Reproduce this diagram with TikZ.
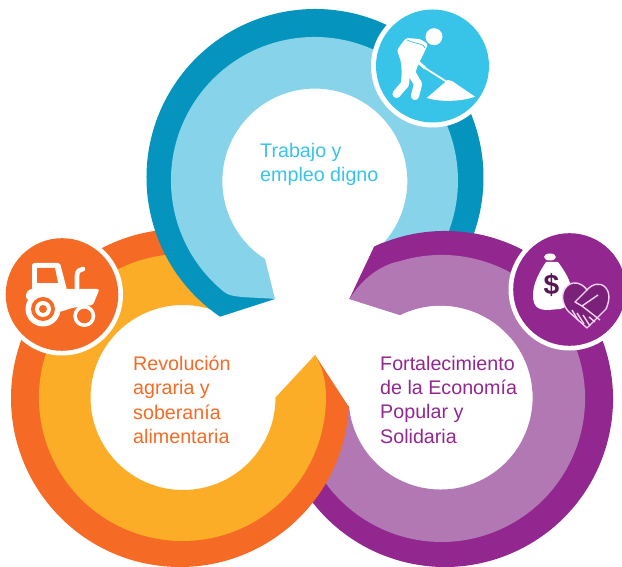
\documentclass[tikz,border=0pt]{standalone}
\usepackage{fontspec}
\setmainfont{Liberation Sans}
\definecolor{bluedark}{HTML}{0594BD}
\definecolor{bluelight}{HTML}{87D3EA}
\definecolor{blueicon}{HTML}{38C3E8}
\definecolor{orangedark}{HTML}{F56A24}
\definecolor{orangelight}{HTML}{FCAD27}
\definecolor{purpledark}{HTML}{92278F}
\definecolor{purplelight}{HTML}{B278B3}
\definecolor{pinkline}{HTML}{F3D3F0}
\tikzset{
  ringlabel/.style={anchor=north west,align=left,font=\fontsize{16.8}{20.7}\selectfont,inner sep=0pt},
  iconstroke/.style={draw=white,line cap=round,line join=round},
  pinkstroke/.style={draw=pinkline,line width=1.2pt,line join=round}
}
% drawn twice: the rings overlap in a cycle
\newcommand{\purplering}{
  \fill[purpledark] (445,168) ++(114.9:168) arc[start angle=114.9,end angle=-150,radius=168]
    -- ++(30:43) arc[start angle=-150,end angle=105,radius=125] -- (349.5,268) -- cycle;
  \fill[purplelight] (349.5,268) -- (400,252) arc[start angle=116.2,end angle=-175,radius=92]
    -- (330,150) -- (311.5,107.9) arc[start angle=-155,end angle=107,radius=143.5]
    .. controls (380,302) and (362,288) .. (349.5,268) -- cycle;
}
\begin{document}
\begin{tikzpicture}[x=0.03cm,y=0.03cm]
\clip (0,0) rectangle (622,567);

\purplering

% orange ring
\fill[orangedark] (180,169) ++(-3:169) arc[start angle=-3,end angle=-277,radius=169]
  -- ++(-97:44) arc[start angle=-277,end angle=0,radius=125] -- (315,212) -- cycle;
\fill[orangelight] (315,212) -- (275.5,169.5) arc[start angle=0,end angle=-292,radius=92.5]
  -- (219.6,308.1) arc[start angle=-285,end angle=0,radius=143.5]
  .. controls (326,188) and (322,200) .. (315,212) -- cycle;

% blue ring
\fill[bluedark] (315,389.5) ++(235.7:168.5) arc[start angle=235.7,end angle=-35,radius=168.5]
  -- ++(145:48.5) arc[start angle=-35,end angle=231,radius=120] -- (275,268) -- cycle;
\fill[bluelight] (275,268) -- (265,308) arc[start angle=237.4,end angle=-45,radius=92.5]
  -- (432,304.2) arc[start angle=-35,end angle=231,radius=143.5]
  .. controls (231,268.5) and (255,270) .. (275,268) -- cycle;

\begin{scope}
\clip (340,230) rectangle (622,567);
\purplering
\end{scope}

% labels
\node[ringlabel,text=blueicon] (trabajo) at (260,424) {Trabajo y\\empleo digno};
\node[ringlabel,text=orangedark] (revolucion) at (133,211) {Revolución\\agraria y\\soberanía\\alimentaria};
\node[ringlabel,text=purpledark] (fortalecimiento) at (380,211) {Fortalecimiento\\de la Economía\\Popular y\\Solidaria};

% worker icon
\fill[white] (432.5,501) circle (61.5);
\fill[blueicon] (432.5,501) circle (56.5);
\fill[white] (434,530.3) circle (8.5);
\fill[white,rounded corners=2pt] (397,517) -- (406,529) -- (420,528) -- (428,523) -- (423,512) -- (418,502) -- (414,490) -- (402,490) -- (401,505) -- cycle;
\draw[iconstroke,line width=7pt] (406,495) -- (405,483) -- (396.5,473);
\draw[iconstroke,line width=7pt] (411,495) -- (418,483) -- (415,471);
\draw[iconstroke,line width=2.5pt] (418,505) -- (425,499);
\draw[iconstroke,line width=1.5pt] (425,499) -- (447,485);
\draw[blueicon,line width=0.6pt] (407,527) .. controls (418,522) and (424,524) .. (425,519);
\fill[white] (426.7,469) -- (447.7,487) -- (452,486) -- (475,470.3) .. controls (460,465) and (440,465) .. (426.7,469) -- cycle;

% tractor icon
\fill[white] (62,272.5) circle (61);
\fill[orangedark] (62,272.5) circle (56.3);
\fill[white,rounded corners=1.5pt] (32,304) -- (60,304) -- (67,277) -- (32,277) -- cycle;
\fill[orangedark] (37,299) -- (55,299) -- (58,284) -- (37,284) -- cycle;
\fill[white,rounded corners=2pt] (26,274) -- (30,278) -- (99.5,278) -- (93,262) -- (72,259) -- (60,255) -- (26,268) -- cycle;
\draw[iconstroke,line width=4pt] (77,279) -- (77,291) .. controls (77,296) and (80,298) .. (83,298);
\fill[white] (43,258) circle (17.5);
\fill[orangedark] (43,258) circle (12);
\fill[white] (43,258) circle (8);
\fill[orangedark] (43,258) circle (4);
\fill[white] (84.3,251) circle (11);
\fill[orangedark] (84.3,251) circle (7.3);

% money icon
\fill[white] (569.5,277.5) circle (61);
\fill[purpledark] (569.5,277.5) circle (56.3);
\fill[white] (546,305) .. controls (540,296) and (533,284) .. (533,272) .. controls (533,260) and (538,257) .. (548,257) -- (560,258) .. controls (570,260) and (574,270) .. (571,280) .. controls (569,290) and (563,298) .. (558,305) -- cycle;
\fill[white] (550,310) ellipse (6 and 3.5);
\node[text=purpledark!60!black,font=\bfseries\fontsize{24}{24}\selectfont,inner sep=0pt] (dollar) at (551.5,282) {\$};
\fill[purpledark!85!black] (587,239) -- (568,256) .. controls (558,268) and (563,282) .. (573,284) .. controls (580,285) and (585,280) .. (587,277) .. controls (592,283) and (600,285) .. (605,280) .. controls (611,274) and (609,265) .. (606,258) -- cycle;
\draw[pinkstroke] (587,239) -- (568,256) .. controls (558,268) and (563,282) .. (573,284) .. controls (580,285) and (585,280) .. (587,277) .. controls (592,283) and (600,285) .. (605,280) .. controls (611,274) and (609,265) .. (606,258) -- cycle;
\draw[pinkstroke] (587,277) -- (575,265) -- (582,261) -- (598,272);
\draw[pinkstroke] (572,257) -- (578,247);
\draw[pinkstroke] (577,254) -- (584,243);
\draw[pinkstroke] (583,252) -- (590,241);
\draw[pinkstroke] (589,250) -- (595,245);
\draw[pinkstroke] (582,261) -- (600,247);
\end{tikzpicture}
\end{document}
